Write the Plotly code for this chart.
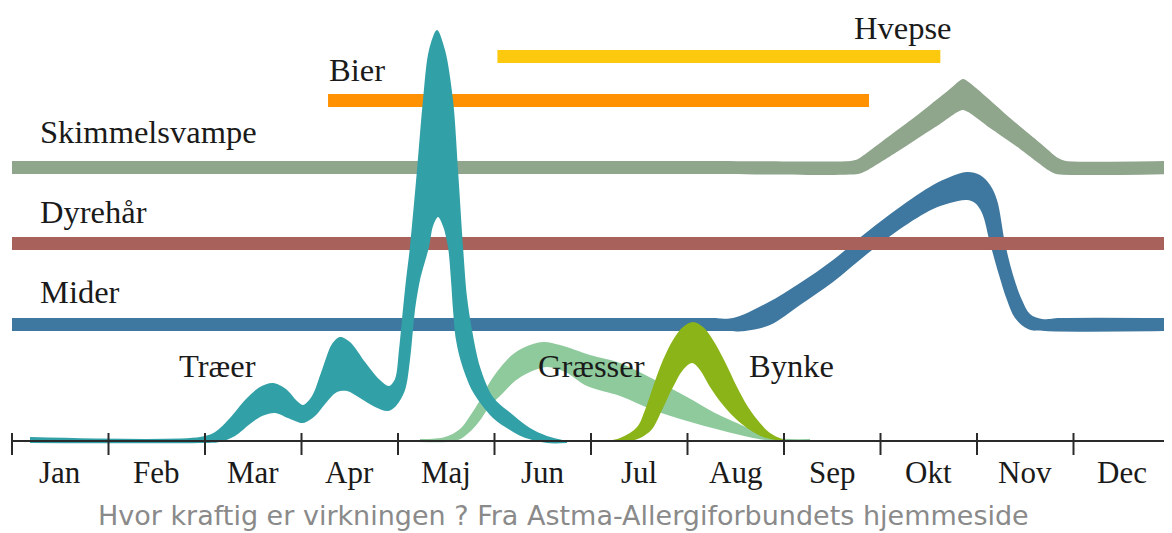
import plotly.graph_objects as go

# ---------------- data ----------------
months = ["Jan", "Feb", "Mar", "Apr", "Maj", "Jun", "Jul", "Aug", "Sep", "Okt", "Nov", "Dec"]
month_edges = list(range(13))

# flat seasons: [start month, end month] and level (intensity units)
hvepse_span = [5.03, 9.62]
hvepse_level = 384.5
bier_span = [3.275, 8.881]
bier_level = 340.5
dyrehaar_span = [0.0, 12.0]
dyrehaar_level = 197.5

# Skimmelsvampe (upper / lower edge of band)
skimmel_top_x = [0, 7.13, 8.684, 8.767, 8.995, 9.409, 9.72, 9.855, 9.99, 10.342, 10.653, 10.839, 10.922, 12]
skimmel_top_y = [280, 280, 280, 282, 298, 328, 352, 362, 353, 323, 298, 283, 280, 280]
skimmel_bot_x = [0, 7.13, 8.767, 8.85, 9.202, 9.617, 9.855, 10.135, 10.446, 10.736, 10.819, 12]
skimmel_bot_y = [267, 267, 267, 270, 291, 317, 331, 313, 292, 271, 267, 267]

# Mider
mider_top_x = [0, 7.233, 7.472, 7.824, 8.166, 8.508, 8.86, 9.202, 9.544, 9.72, 9.896, 10.031,
               10.135, 10.207, 10.29, 10.373, 10.466, 10.549, 10.674, 10.86, 12]
mider_top_y = [123, 123, 123, 138, 158, 181, 209, 234, 256, 264, 269, 266,
               256, 241, 198, 166, 141, 127, 122, 123, 123]
mider_bot_x = [0, 7.337, 7.596, 7.855, 8.166, 8.508, 8.86, 9.202, 9.544, 9.72, 9.896, 9.979,
               10.052, 10.135, 10.228, 10.311, 10.394, 10.528, 10.705, 12]
mider_bot_y = [110, 110, 110, 116, 136, 159, 187, 212, 232, 238, 241, 238,
               228, 198, 166, 141, 123, 112, 110, 110]

# Træer
traer_top_x = [0.187, 1.948, 2.104, 2.259, 2.415, 2.57, 2.705, 2.839, 2.953, 3.016, 3.109, 3.212,
               3.316, 3.399, 3.503, 3.658, 3.813, 3.907, 3.969, 4.01, 4.041, 4.083, 4.124, 4.197,
               4.259, 4.321, 4.404, 4.487, 4.57, 4.622, 4.674, 4.715, 4.767, 4.85, 4.984, 5.192,
               5.368, 5.544, 5.751]
traer_top_y = [4, 4, 9, 23, 41, 54, 58, 52, 40, 36, 45, 71,
               97, 104, 99, 79, 61, 55, 62, 91, 121, 161, 194, 271,
               341, 391, 411, 391, 341, 271, 194, 144, 111, 74, 44, 26,
               13, 5, 0]
traer_bot_x = [0.187, 1.948, 2.155, 2.311, 2.466, 2.591, 2.725, 2.86, 3.016, 3.14, 3.244, 3.368,
               3.472, 3.606, 3.762, 3.896, 3.979, 4.073, 4.124, 4.155, 4.176, 4.228, 4.321, 4.363,
               4.415, 4.466, 4.518, 4.549, 4.57, 4.601, 4.663, 4.777, 4.984, 5.161, 5.295, 5.544,
               5.751]
traer_bot_y = [-2, -2, -1, 5, 17, 25, 28, 23, 18, 25, 37, 49,
               50, 43, 34, 30, 35, 51, 81, 111, 131, 161, 194, 215,
               224, 215, 194, 161, 131, 101, 76, 49, 23, 11, 4, -2,
               -2]

# Græsser
graes_top_x = [4.228, 4.487, 4.642, 4.746, 4.85, 4.953, 5.057, 5.181, 5.316, 5.503, 5.679, 5.99,
               6.301, 6.663, 6.995, 7.285, 7.513, 7.699, 7.855, 8.062, 8.269]
graes_top_y = [2, 4, 12, 25, 41, 59, 73, 86, 94, 99, 96, 86,
               78, 61, 44, 28, 18, 10, 4, 2, 2]
graes_bot_x = [4.228, 4.591, 4.694, 4.829, 4.953, 5.088, 5.212, 5.368, 5.544, 5.731, 5.959, 6.301,
               6.642, 6.995, 7.337, 7.679, 7.907, 8.269]
graes_bot_y = [-1, 0, 5, 18, 35, 48, 60, 69, 74, 69, 55, 45,
               31, 20, 11, 3, 0, -1]

# Bynke
bynke_top_x = [6.145, 6.301, 6.477, 6.56, 6.642, 6.746, 6.85, 6.953, 7.057, 7.161, 7.264, 7.389,
               7.513, 7.627, 7.751, 7.855, 7.979, 8.062]
bynke_top_y = [0, 3, 14, 31, 54, 81, 101, 114, 119, 114, 101, 79,
               54, 34, 18, 8, 2, 0]
bynke_bot_x = [6.145, 6.404, 6.508, 6.591, 6.642, 6.746, 6.85, 6.953, 7.047, 7.13, 7.233, 7.368,
               7.513, 7.648, 7.782, 7.979, 8.062]
bynke_bot_y = [-1, 0, 3, 8, 13, 33, 54, 71, 78, 71, 54, 36,
               21, 11, 4, 0, -1]

# ---------------- styling ----------------
BAR = 13
C_HVEPSE = "#FDC90F"
C_BIER = "#FF9102"
C_SKIMMEL = "#8FA68D"
C_DYRE = "#A8615B"
C_MIDER = "#3E779F"
C_TRAER = "#31A0A7"
C_GRAES = "#8FCA9D"
C_BYNKE = "#8BB418"
SERIF = "Liberation Serif, Times New Roman, serif"

fig = go.Figure()


def band(xb, yb, xt, yt, color, smooth=1.0):
    shape = "spline" if smooth else "linear"
    fig.add_trace(go.Scatter(x=xb, y=yb, mode="lines",
                             line=dict(width=0, color=color, shape=shape, smoothing=smooth if smooth else 1),
                             hoverinfo="skip", showlegend=False))
    fig.add_trace(go.Scatter(x=xt, y=yt, mode="lines", fill="tonexty", fillcolor=color,
                             line=dict(width=0, color=color, shape=shape, smoothing=smooth if smooth else 1),
                             hoverinfo="skip", showlegend=False))


def bar(span, level, color):
    band(span, [level - BAR / 2] * 2, span, [level + BAR / 2] * 2, color, smooth=0)


bar(hvepse_span, hvepse_level, C_HVEPSE)
bar(bier_span, bier_level, C_BIER)
band(skimmel_bot_x, skimmel_bot_y, skimmel_top_x, skimmel_top_y, C_SKIMMEL, 0.6)
band(graes_bot_x, graes_bot_y, graes_top_x, graes_top_y, C_GRAES, 1.0)
band(mider_bot_x, mider_bot_y, mider_top_x, mider_top_y, C_MIDER, 1.0)
bar(dyrehaar_span, dyrehaar_level, C_DYRE)
band(traer_bot_x, traer_bot_y, traer_top_x, traer_top_y, C_TRAER, 0.9)
band(bynke_bot_x, bynke_bot_y, bynke_top_x, bynke_top_y, C_BYNKE, 1.0)

# time axis with crossing ticks
fig.add_trace(go.Scatter(x=[month_edges[0], month_edges[-1]], y=[0, 0], mode="lines",
                         line=dict(color="#2a2a2a", width=2), hoverinfo="skip", showlegend=False))
tx, ty = [], []
for e in month_edges:
    tx += [e, e, None]
    ty += [8, -14, None]
fig.add_trace(go.Scatter(x=tx, y=ty, mode="lines", line=dict(color="#2a2a2a", width=2),
                         hoverinfo="skip", showlegend=False))

annotations = []
for i, m in enumerate(months):
    annotations.append(dict(x=i + 0.5, y=-31.5, xref="x", yref="y", text=m, showarrow=False,
                            xanchor="center", yanchor="middle",
                            font=dict(family=SERIF, size=31, color="#1a1a1a")))

labels = [
    ("Skimmelsvampe", 0.27, 309.5),
    ("Dyrehår", 0.27, 229.5),
    ("Mider", 0.27, 149.5),
    ("Bier", 3.265, 371.5),
    ("Hvepse", 8.705, 413.5),
    ("Træer", 1.71, 75.5),
    ("Græsser", 5.43, 75.5),
    ("Bynke", 7.617, 75.5),
]
for text, x, y in labels:
    annotations.append(dict(x=x, y=y, xref="x", yref="y", text=text, showarrow=False,
                            xanchor="left", yanchor="middle",
                            font=dict(family=SERIF, size=32.5, color="#1a1a1a")))

annotations.append(dict(x=5.72, y=-74, xref="x", yref="y",
                        text="Hvor kraftig er virkningen ? Fra Astma-Allergiforbundets hjemmeside",
                        showarrow=False, xanchor="center", yanchor="middle",
                        font=dict(family="DejaVu Sans, Verdana, sans-serif", size=27, color="#8a8a8a")))

# page body adds an 8 px offset; ranges keep 96.5 px per month with Jan starting at x=12 px
fig.update_layout(
    width=1172, height=533,
    margin=dict(l=0, r=0, t=0, b=0),
    paper_bgcolor="white", plot_bgcolor="white",
    xaxis=dict(range=[-0.04145, 12.1036], visible=False, fixedrange=True),
    yaxis=dict(range=[-100, 433], visible=False, fixedrange=True),
    annotations=annotations,
    showlegend=False,
)

fig.write_html("out.html")
